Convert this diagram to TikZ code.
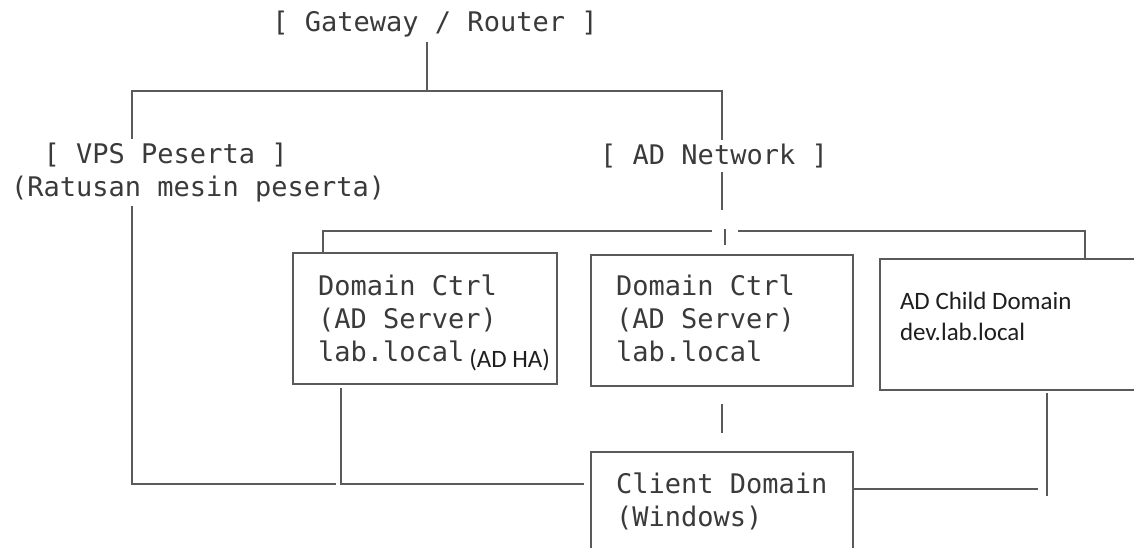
\documentclass[tikz,border=0pt]{standalone}
\usepackage{fontspec}
\newfontfamily\monofont{DejaVu Sans Mono}
\newfontfamily\calfont{Carlito}
\definecolor{edge}{HTML}{5A5A5A}
\definecolor{ink}{HTML}{3A3A3A}
\definecolor{inkdark}{HTML}{1E1E1E}

\begin{document}
\begin{tikzpicture}[x=1pt, y=-1pt,
  tag/.style={font=\monofont\fontsize{27}{33}\selectfont, text=ink, inner sep=4pt},
  box/.style={draw=edge, line width=2pt, anchor=north west, outer sep=0pt, inner xsep=25pt, inner ysep=0pt, font=\monofont\fontsize{27}{33}\selectfont, text=ink},
  link/.style={draw=edge, line width=2pt}
]
\useasboundingbox (0,0) rectangle (1134,548);

% Network labels
\node[tag] (gw) at (435,24.5) {[ Gateway / Router ]};
\node[tag, align=left, anchor=west] (vps) at (7,172.5) {\phantom{xx}[ VPS Peserta ]\\(Ratusan mesin peserta)};
\node[tag] (adnet) at (714,156) {[ AD Network ]};

% Servers
\node[box, text height=42pt, text depth=89pt] (dc1) at (293,253) {\parbox[t]{214pt}{Domain Ctrl\\(AD Server)\\lab.local\rlap{\hspace{5pt}\raisebox{-6pt}{\calfont\fontsize{25}{30}\selectfont\color{inkdark}(AD HA)}}}};
\node[box, text height=40pt, text depth=91pt] (dc2) at (591,255) {\parbox[t]{212pt}{Domain Ctrl\\(AD Server)\\lab.local}};
\node[box, inner xsep=20pt, text height=50pt, text depth=81pt, font=\calfont\fontsize{25}{31}\selectfont, text=inkdark] (child) at (880,259) {\parbox[t]{260pt}{AD Child Domain\\dev.lab.local}};
\node[box, text height=41pt, text depth=60pt] (client) at (591,452) {\parbox[t]{212pt}{Client Domain\\(Windows)}};

% Bends
\coordinate (busL) at (132,91);
\coordinate (busR) at (722,91);
\coordinate (gwbus) at (427,91);
\coordinate (netdrop) at (722,210);
\coordinate (tick) at (725,229);
\coordinate (tapL) at (323,231);
\coordinate (netL) at (712,231);
\coordinate (netR) at (738,231);
\coordinate (tapR) at (1085,231);
\coordinate (lowL) at (341,484);
\coordinate (lowR) at (1047,489);

% Links
\draw[link] (gw.south -| gwbus) -- (gwbus);
\draw[link] (vps.north -| busL) |- (busR) -- (adnet.north -| busR);
\draw[link] (adnet.south -| busR) -- (netdrop);
\draw[link] (tick) -- ++(0,16);
\draw[link] (dc1.north -| tapL) |- (netL);
\draw[link] (netR) -| (child.north -| tapR);
\draw[link] (vps.south -| busL) |- ([xshift=-5pt]lowL);
\draw[link, shorten <=4pt, shorten >=7pt] (dc1.south -| lowL) |- (lowL -| client.west);
\draw[link, shorten <=18pt, shorten >=19pt] (dc2.south) -- (client.north);
\draw[link, shorten >=9pt] (client.east |- lowR) -- (lowR);
\draw[link, shorten <=3pt] (child.south -| lowR) -- ([yshift=-7pt]lowR);

\end{tikzpicture}
\end{document}
